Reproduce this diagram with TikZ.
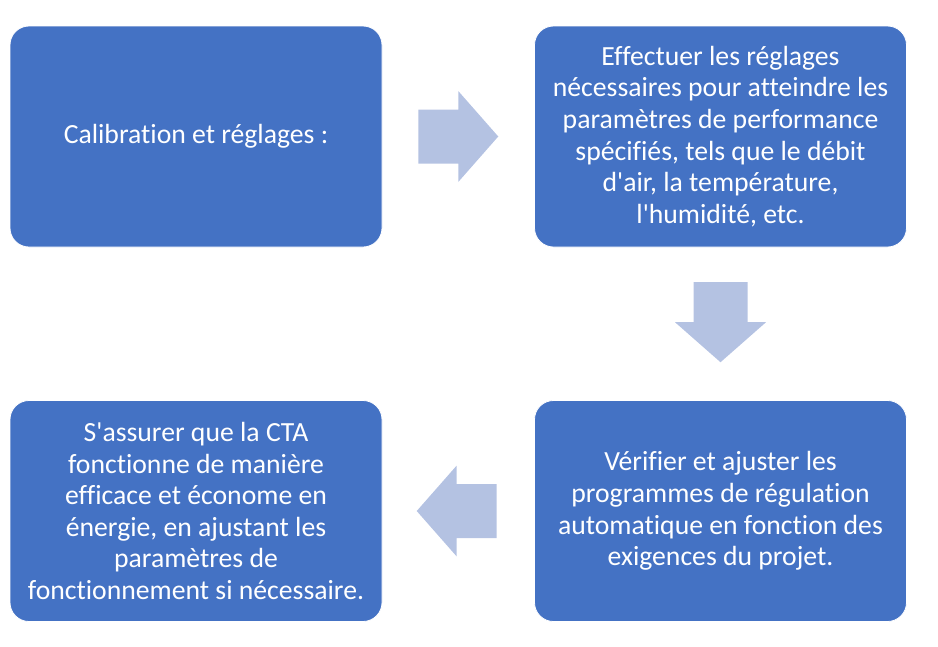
\documentclass[tikz,border=0pt]{standalone}
\usepackage{fontspec}
\setmainfont{Carlito}[Ligatures=NoCommon]
\usepackage{tikz}
\usetikzlibrary{calc,positioning}
\definecolor{boxblue}{HTML}{4472C4}
\definecolor{arrowblue}{HTML}{B4C2E2}
\newcommand{\apos}{\textquotesingle}

\begin{document}
\begin{tikzpicture}[x=1pt, y=-1pt,
    stepbox/.style={rectangle, rounded corners=19pt, fill=boxblue, draw=white, line width=0.8pt,
        minimum width=372pt, minimum height=221pt, align=center, text=white,
        font=\fontsize{27.7}{31.6}\selectfont, inner sep=0pt},
    blockarrow/.pic={
        \fill[arrowblue] (-40,-27) -- (0,-27) -- (0,-45.5) -- (40,0) -- (0,45.5) -- (0,27) -- (-40,27) -- cycle;
    }]
    \useasboundingbox (0,0) rectangle (938,646);

    % Boxes
    \node[stepbox] (calib) at (196,136.5) {Calibration et réglages :};
    \node[stepbox] (reglages) at (720.5,136.5) {Effectuer les réglages\\nécessaires pour atteindre les\\paramètres de performance\\spécifiés, tels que le débit\\d\apos{}air, la température,\\l\apos{}humidité, etc.};
    \node[stepbox] (verif) at (720.5,511) {Vérifier et ajuster les\\programmes de régulation\\automatique en fonction des\\exigences du projet.};
    \node[stepbox] (cta) at (196,511) {S\apos{}assurer que la CTA\\fonctionne de manière\\efficace et économe en\\énergie, en ajustant les\\paramètres de\\fonctionnement si nécessaire.};

    % Arrows
    \pic at ($(calib.east)!0.5!(reglages.west)$) {blockarrow};
    \pic[rotate=-90] at ($(reglages.south)!0.49!(verif.north)$) {blockarrow};
    \pic[rotate=180] at ($(verif.west)!0.51!(cta.east)$) {blockarrow};
\end{tikzpicture}
\end{document}
